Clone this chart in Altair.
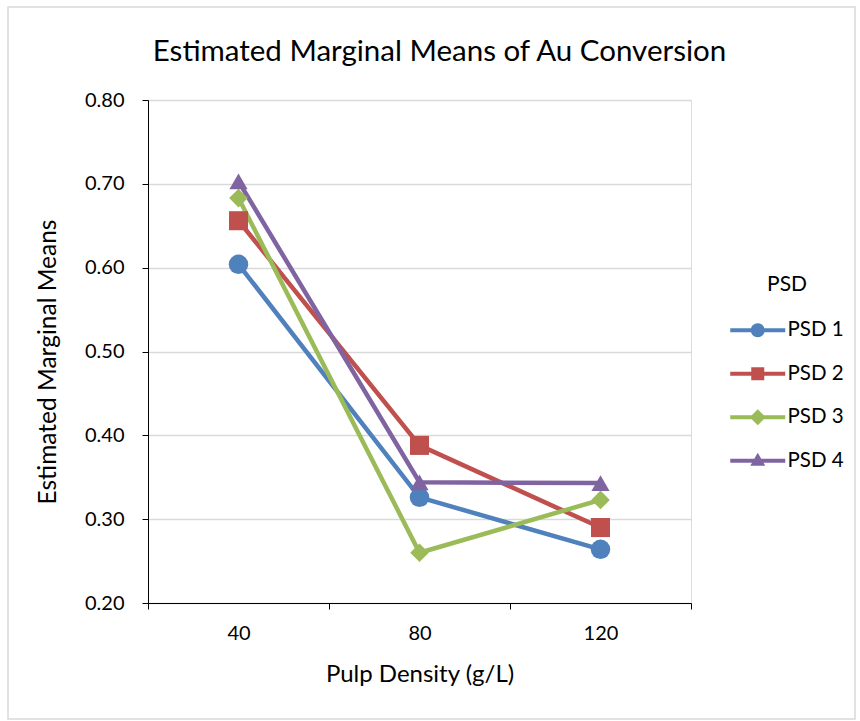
import altair as alt
import pandas as pd

densities = ["40", "80", "120"]
series = ["PSD 1", "PSD 2", "PSD 3", "PSD 4"]
psd1 = [0.604, 0.326, 0.264]
psd2 = [0.656, 0.388, 0.290]
psd3 = [0.683, 0.260, 0.323]
psd4 = [0.703, 0.344, 0.343]
y_ticks = [0.20, 0.30, 0.40, 0.50, 0.60, 0.70, 0.80]

colors = ["#4F81BD", "#C0504D", "#9BBB59", "#8064A2"]
shapes = ["circle", "square", "diamond", "triangle-up"]
sizes = [380, 330, 450, 420]

line_l = "M-1,-0.2H1.75V0.2H-1Z"
line_r = "M1.75,-0.2H4.5V0.2H1.75Z"
legend_paths = [
    line_l + line_r + "M2.45,0A0.7,0.7 0 1,1 1.05,0A0.7,0.7 0 1,1 2.45,0Z",
    line_l + line_r + "M1.1,-0.65H2.4V0.65H1.1Z",
    line_l + line_r + "M1.75,-0.8L2.55,0L1.75,0.8L0.95,0Z",
    line_l + line_r + "M1.75,-0.8L2.5,0.5L1.0,0.5Z",
]

rows = []
for name, vals in zip(series, [psd1, psd2, psd3, psd4]):
    for d, v in zip(densities, vals):
        rows.append({"density": d, "value": v, "series": name, "series_leg": name})
df = pd.DataFrame(rows)

FONT = "Lato"

x_enc = alt.X(
    "density:N",
    sort=densities,
    scale=alt.Scale(type="band", paddingInner=0, paddingOuter=0),
    bandPosition=0.5,
    axis=alt.Axis(
        title="Pulp Density (g/L)",
        tickBand="extent",
        labelAngle=0,
        grid=False,
        domainColor="#000000",
        tickColor="#000000",
        tickSize=6,
        labelPadding=14,
        labelFontSize=20,
        labelColor="#000000",
        labelFont=FONT,
        titleFont=FONT,
        titleFontSize=24,
        titleFontWeight="normal",
        titleColor="#000000",
        titleY=71,
        titleBaseline="middle",
    ),
)
y_enc = alt.Y(
    "value:Q",
    scale=alt.Scale(domain=[0.2, 0.8], nice=False, zero=False),
    axis=alt.Axis(
        title="Estimated Marginal Means",
        values=y_ticks,
        format=".2f",
        grid=True,
        gridColor="#d9d9d9",
        gridWidth=1.5,
        domainColor="#000000",
        tickColor="#000000",
        tickSize=6,
        labelPadding=18,
        labelFontSize=20,
        labelColor="#000000",
        labelFont=FONT,
        titleFont=FONT,
        titleFontSize=24.5,
        titleFontWeight="normal",
        titleColor="#000000",
        titleX=-100,
        titleY=261.5,
        titleAngle=-90,
        titleBaseline="middle",
    ),
)

base = alt.Chart(df)

lines = base.mark_line(strokeWidth=4.5).encode(
    x=x_enc,
    y=y_enc,
    color=alt.Color("series:N", scale=alt.Scale(domain=series, range=colors), legend=None),
    detail="series:N",
)

points = base.mark_point(filled=True, opacity=1, strokeWidth=0).encode(
    x=x_enc,
    y=y_enc,
    color=alt.Color("series:N", scale=alt.Scale(domain=series, range=colors), legend=None),
    shape=alt.Shape("series:N", scale=alt.Scale(domain=series, range=shapes), legend=None),
    size=alt.Size("series:N", scale=alt.Scale(domain=series, range=sizes), legend=None),
)

leg = alt.Legend(
    title="PSD",
    orient="none",
    legendX=582,
    legendY=174,
    titleFont=FONT,
    titleFontSize=21,
    titleFontWeight="normal",
    titleColor="#000000",
    titleAnchor="middle",
    titlePadding=25,
    labelFont=FONT,
    labelFontSize=20.5,
    labelColor="#000000",
    labelOffset=37,
    symbolSize=400,
    symbolStrokeWidth=0,
    rowPadding=22.5,
)

dummy = base.mark_point(filled=True, opacity=1, strokeWidth=0, clip=True).encode(
    x=x_enc,
    y=alt.value(-2000),
    color=alt.Color("series_leg:N", scale=alt.Scale(domain=series, range=colors), legend=leg),
    shape=alt.Shape("series_leg:N", scale=alt.Scale(domain=series, range=legend_paths), legend=leg),
)

border = alt.Chart(pd.DataFrame({"k": [0]})).mark_rect(
    fillOpacity=0, stroke="#d9d9d9", strokeWidth=1.5
).encode(
    x=alt.value(-140), x2=alt.value(707), y=alt.value(-93), y2=alt.value(619)
)

chart = alt.layer(border, lines, points, dummy).resolve_scale(
    color="independent", shape="independent"
).properties(
    width=543,
    height=503,
    padding={"left": 148, "top": 100, "right": 169, "bottom": 118},
    autosize=alt.AutoSizeParams(type="none"),
    title=alt.TitleParams(
        "Estimated Marginal Means of Au Conversion",
        font=FONT,
        fontSize=29.5,
        fontWeight="normal",
        color="#000000",
        anchor="middle",
        frame="group",
        baseline="alphabetic",
        offset=0,
        dy=84,
        dx=20,
    ),
).configure_view(stroke=None).configure(background="#ffffff")

chart.save("out.html", embed_options={"renderer": "svg", "actions": False})
